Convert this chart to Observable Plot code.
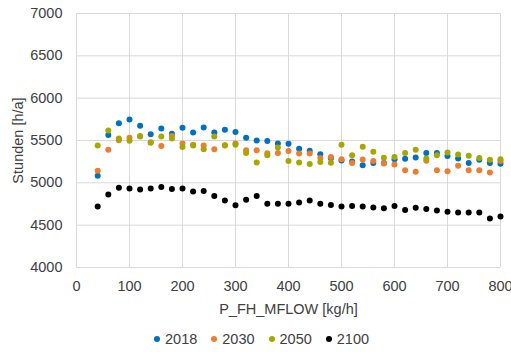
<!DOCTYPE html>
<html>
<head>
<meta charset="utf-8">
<script src="https://cdn.jsdelivr.net/npm/d3@7"></script>
<script src="https://cdn.jsdelivr.net/npm/@observablehq/plot@0.6"></script>
<style>
  html, body { margin: 0; padding: 0; background: #fff; }
  body { width: 511px; height: 352px; overflow: hidden; font-family: "Liberation Sans", Arial, sans-serif; }
  #legend { display: flex; align-items: center; margin-left: 154px; height: 26px; padding-top: 8px; font-size: 14.5px; color: #404040; }
  #legend .item { display: flex; align-items: center; margin-right: 14px; }
  #legend .dot { width: 6px; height: 6px; border-radius: 50%; margin-right: 5px; }
</style>
</head>
<body>
<div id="chart"></div>
<div id="legend"></div>
<script>
const xValues = [40,60,80,100,120,140,160,180,200,220,240,260,280,300,320,340,360,380,400,420,440,460,480,500,520,540,560,580,600,620,640,660,680,700,720,740,760,780,800];
const s2018 = [5083,5564,5705,5748,5674,5575,5642,5579,5650,5595,5654,5595,5626,5599,5532,5500,5493,5465,5461,5402,5378,5339,5290,5264,5252,5209,5233,5233,5280,5284,5300,5351,5351,5316,5288,5233,5272,5233,5225];
const s2030 = [5142,5390,5504,5532,5552,5480,5434,5552,5465,5449,5441,5398,5440,5465,5386,5386,5350,5351,5375,5347,5347,5292,5304,5280,5233,5276,5257,5229,5217,5150,5130,5260,5150,5138,5201,5150,5150,5122,5257];
const s2050 = [5441,5618,5524,5496,5547,5473,5547,5524,5422,5441,5398,5547,5445,5449,5351,5240,5327,5418,5257,5240,5221,5245,5237,5449,5327,5426,5367,5296,5304,5351,5390,5288,5327,5359,5335,5319,5292,5272,5280];
const s2100 = [4721,4862,4941,4933,4921,4933,4950,4926,4933,4898,4904,4845,4791,4735,4800,4845,4752,4752,4752,4768,4791,4752,4737,4721,4725,4721,4709,4701,4725,4678,4705,4690,4674,4658,4650,4650,4650,4579,4603];
const seriesNames = ["2018","2030","2050","2100"];
const seriesColors = ["#0070C0","#ED7D31","#A5A800","#000000"];
const xTicks = [0,100,200,300,400,500,600,700,800];
const yTicks = [4000,4500,5000,5500,6000,6500,7000];

const allSeries = [s2018, s2030, s2050, s2100];
const data = [];
allSeries.forEach((vals, si) => {
  vals.forEach((v, i) => data.push({x: xValues[i], y: v, series: seriesNames[si]}));
});

const chart = Plot.plot({
  width: 511,
  height: 318,
  marginLeft: 76,
  marginRight: 11,
  marginTop: 13,
  marginBottom: 51,
  style: {fontFamily: "'Liberation Sans', Arial, sans-serif", fontSize: "14.5px", color: "#404040", background: "#fff"},
  x: {domain: [0, 800]},
  y: {domain: [4000, 7000]},
  color: {domain: seriesNames, range: seriesColors},
  marks: [
    Plot.gridX(xTicks, {stroke: "#d9d9d9", strokeOpacity: 1, strokeWidth: 1}),
    Plot.gridY(yTicks, {stroke: "#d9d9d9", strokeOpacity: 1, strokeWidth: 1}),
    Plot.dot(data, {x: "x", y: "y", fill: "series", r: 3, stroke: null}),
    Plot.axisX(xTicks, {tickSize: 0, tickPadding: 13, label: "P_FH_MFLOW [kg/h]", labelAnchor: "center", labelArrow: "none", labelOffset: 46, fill: "#404040"}),
    Plot.axisY(yTicks, {tickSize: 0, tickPadding: 14, label: "Stunden [h/a]", labelAnchor: "center", labelArrow: "none", labelOffset: 64, fill: "#404040", tickFormat: d => String(d)})
  ]
});
document.getElementById("chart").appendChild(chart);

const legend = document.getElementById("legend");
seriesNames.forEach((name, i) => {
  const item = document.createElement("div");
  item.className = "item";
  const dot = document.createElement("span");
  dot.className = "dot";
  dot.style.background = seriesColors[i];
  const label = document.createElement("span");
  label.textContent = name;
  item.appendChild(dot);
  item.appendChild(label);
  legend.appendChild(item);
});
</script>
</body>
</html>
